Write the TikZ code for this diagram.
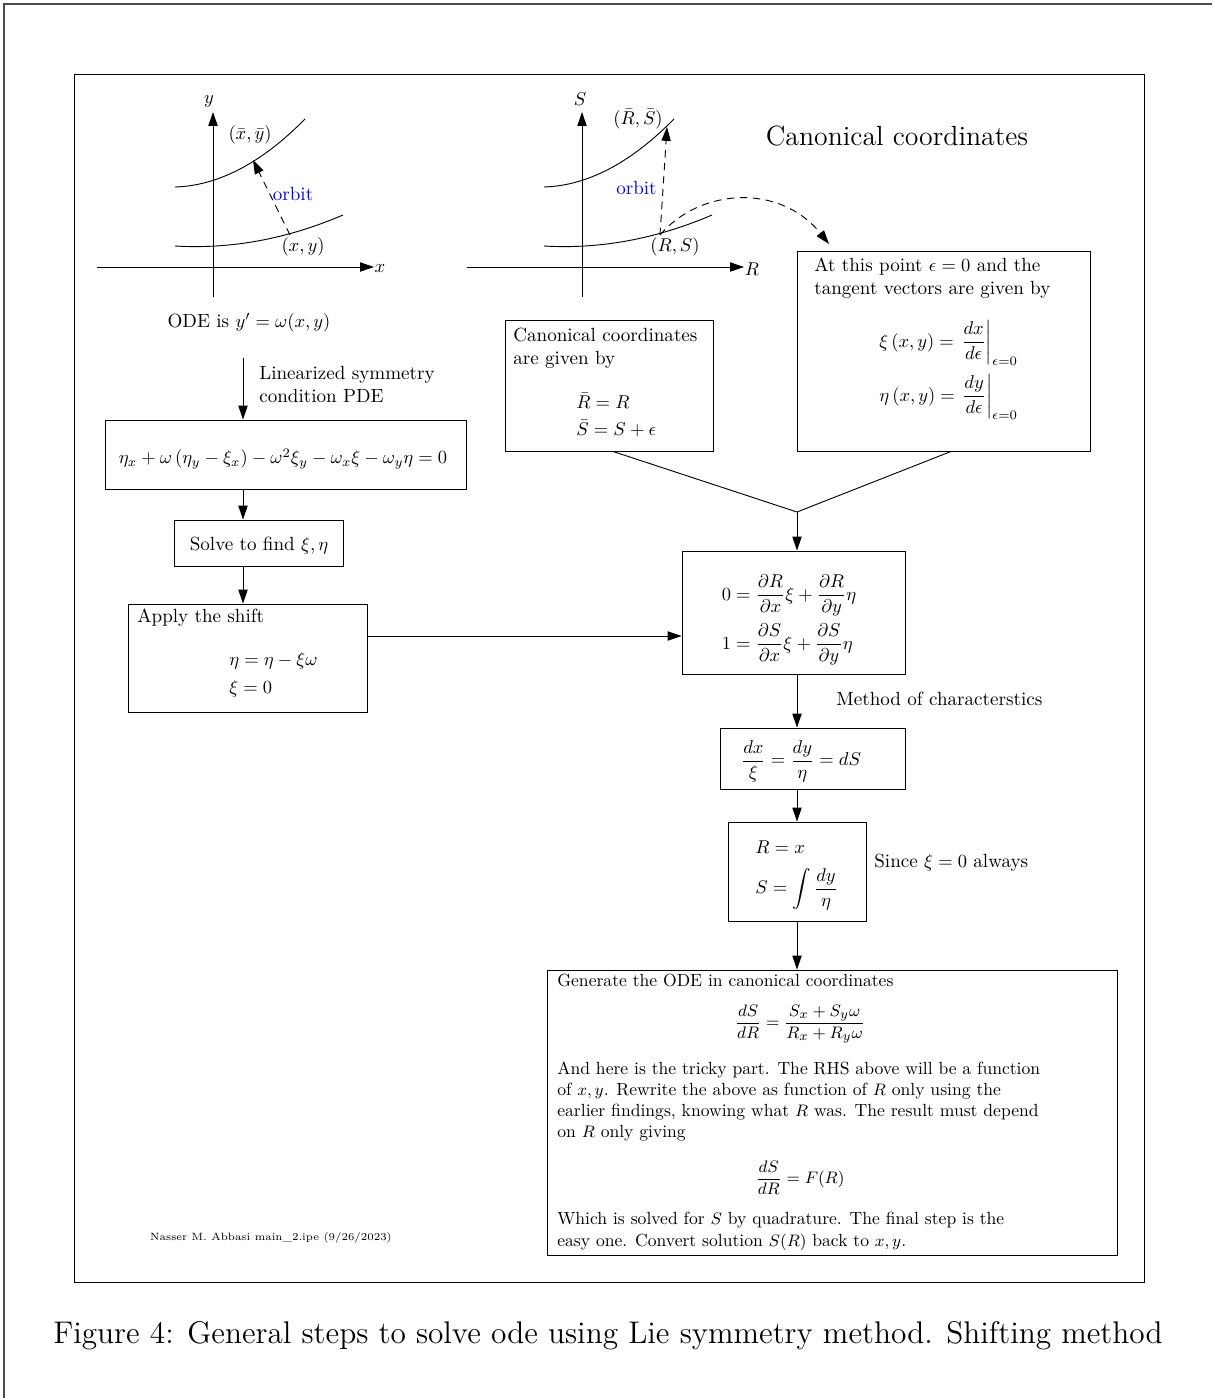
\documentclass[tikz,border=0pt]{standalone}
\usepackage{amsmath}
\usetikzlibrary{arrows.meta,fit}
\font\capfont="[lmroman12-regular]:mapping=tex-text" at 16.9pt
\font\titlefont="[lmroman12-regular]:mapping=tex-text" at 15pt
\begin{document}
\begin{tikzpicture}[x=0.54pt,y=-0.54pt,
  every node/.style={font=\fontsize{10.3}{12.4}\selectfont, inner sep=0pt},
  box/.style={draw, line width=0.5pt, inner sep=0pt},
  ln/.style={line width=0.5pt},
  arr/.style={line width=0.5pt, -{Triangle[length=7.5pt,width=5pt]}},
  dsh/.style={dash pattern=on 4pt off 3pt},
  orb/.style={text=blue},
  txt/.style={anchor=base west},
  gfont/.style={font=\fontsize{9.5}{11.4}\selectfont},
  gtxt/.style={anchor=base west, gfont},
]
\useasboundingbox (0,0) rectangle (1212,1398);
% page frames
\draw[line width=0.6pt, black!70] (4,1398) -- (4,4) -- (1212,4);
\draw[ln] (74,74) rectangle (1144,1282);

% ---------- left plot ----------
\coordinate (yb) at (213,297); \coordinate (yt) at (213,112);
\coordinate (xb) at (97,267);  \coordinate (xt) at (374,267);
\draw[arr] (yb) -- (yt);
\draw[arr] (xb) -- (xt);
\node (ylab) at (209,101) {$y$};
\node (xlab) at (380,269) {$x$};
\draw[ln] (175,187) .. controls (218.3,185.7) and (261.7,163) .. (305,119);
\draw[ln] (175,246) .. controls (231,249.3) and (287,239) .. (343,215);
\coordinate (o1s) at (290,235); \coordinate (o1e) at (253,160);
\draw[arr,dsh] (o1s) -- (o1e);
\node[orb] (orb1) at (293,194) {orbit};
\node (xybar) at (250,135) {$(\bar{x},\bar{y})$};
\node (xy) at (303,247) {$(x,y)$};
\node (ode) at (249,323) {ODE is $y'=\omega(x,y)$};

% ---------- right plot ----------
\coordinate (Sb) at (582,297); \coordinate (St) at (582,112);
\coordinate (Rb) at (467,267); \coordinate (Rt) at (744,267);
\draw[arr] (Sb) -- (St);
\draw[arr] (Rb) -- (Rt);
\node (Slab) at (580,99) {$S$};
\node (Rlab) at (752,269) {$R$};
\draw[ln] (544,187) .. controls (587.3,185.7) and (630.7,163) .. (674,119);
\draw[ln] (544,246) .. controls (600,249.3) and (656,239) .. (712,215);
\coordinate (o2s) at (660,235); \coordinate (o2e) at (667,127);
\draw[arr,dsh] (o2s) -- (o2e);
\node[orb,anchor=east] (orb2) at (657,188) {orbit};
\node (RSbar) at (638,119) {$(\bar{R},\bar{S})$};
\node (RS) at (675,247) {$(R,S)$};
\coordinate (cu) at (829,244);
\draw[arr,dsh] (o2s) .. controls (700,188) and (780,183) .. (cu);

\node[font=\titlefont] (title) at (897,136) {Canonical coordinates};

% ---------- tangent box ----------
\node[box, fit={(797,251) (1090,451)}] (tang) {};
\node[txt] (t1) at (814,271) {At this point $\epsilon=0$ and the};
\node[txt] (t2) at (814,294) {tangent vectors are given by};
\node[txt] (t3) at (879,347) {$\xi\left(x,y\right)=\left.\dfrac{dx}{d\epsilon}\right|_{\epsilon=0}$};
\node[txt] (t4) at (879,401) {$\eta\left(x,y\right)=\left.\dfrac{dy}{d\epsilon}\right|_{\epsilon=0}$};

% ---------- canonical box ----------
\node[box, fit={(505,320) (713,451)}] (canon) {};
\node[txt] (c1) at (513,341) {Canonical coordinates};
\node[txt] (c2) at (513,364) {are given by};
\node[txt] (c3) at (576,408) {$\bar{R}=R$};
\node[txt] (c4) at (576,435) {$\bar{S}=S+\epsilon$};

% ---------- left column ----------
\coordinate (lc) at (243,0);
\coordinate (a0) at (243,358);
\node[txt] (lin1) at (259,379) {Linearized symmetry};
\node[txt] (lin2) at (259,402) {condition PDE};
\node[box, fit={(105,420) (466,489)}] (pde) {};
\node (pdet) at (283,459) {$\eta_x+\omega\left(\eta_y-\xi_x\right)-\omega^2\xi_y-\omega_x\xi-\omega_y\eta=0$};
\node[box, fit={(174,520) (343,566)}] (solve) {};
\node (solvet) at (259,546) {Solve to find $\xi,\eta$};
\node[box, fit={(128,604) (367,712)}] (shift) {};
\node[txt] (sh1) at (137,622) {Apply the shift};
\node[txt] (sh2) at (229,665) {$\eta=\eta-\xi\omega$};
\node[txt] (sh3) at (229,693) {$\xi=0$};

\draw[arr] (a0) -- (pde.north -| a0);
\draw[arr] (pde.south -| lc) -- (solve.north -| lc);
\draw[arr] (solve.south -| lc) -- (shift.north -| lc);

% ---------- right column ----------
\coordinate (rc) at (797,0);
\node[box, fit={(682,551) (905,674)}] (pdes) {};
\node (pdest) at (789,620) {$\begin{aligned}0&=\frac{\partial R}{\partial x}\xi+\frac{\partial R}{\partial y}\eta\\ 1&=\frac{\partial S}{\partial x}\xi+\frac{\partial S}{\partial y}\eta\end{aligned}$};
\node[txt] (moc) at (836,705) {Method of characterstics};
\node[box, fit={(720,728) (905,789)}] (char) {};
\node (chart) at (801,761) {$\dfrac{dx}{\xi}=\dfrac{dy}{\eta}=dS$};
\node[box, fit={(728,822) (866,921)}] (rs) {};
\node[anchor=west] (rs1) at (755,847) {$R=x$};
\node[anchor=west] (rs2) at (755,889) {$S=\displaystyle\int\frac{dy}{\eta}$};
\node[txt] (since) at (874,867) {Since $\xi=0$ always};

\coordinate (hy) at (0,636);
\draw[arr] (shift.east |- hy) -- (pdes.west |- hy);
\coordinate (m) at (797,512);
\coordinate (k1) at (613,0); \coordinate (k2) at (951,0);
\draw[ln] (canon.south -| k1) -- (m) -- (tang.south -| k2);
\draw[arr] (m) -- (pdes.north -| m);
\draw[arr] (pdes.south -| rc) -- (char.north -| rc);
\draw[arr] (char.south -| rc) -- (rs.north -| rc);

% ---------- final box ----------
\node[box, fit={(547,970) (1117,1255)}] (gen) {};
\draw[arr] (rs.south -| rc) -- (gen.north -| rc);
\node[gtxt] (g1) at (557,986) {Generate the ODE in canonical coordinates};
\node[gfont] (g2) at (800,1024) {$\dfrac{dS}{dR}=\dfrac{S_x+S_y\omega}{R_x+R_y\omega}$};
\node[gtxt] (g3) at (557,1074) {And here is the tricky part. The RHS above will be a function};
\node[gtxt] (g4) at (557,1095) {of $x,y$. Rewrite the above as function of $R$ only using the};
\node[gtxt] (g5) at (557,1116) {earlier findings, knowing what $R$ was. The result must depend};
\node[gtxt] (g6) at (557,1137) {on $R$ only giving};
\node[gfont] (g7) at (800,1178) {$\dfrac{dS}{dR}=F(R)$};
\node[gtxt] (g8) at (557,1224) {Which is solved for $S$ by quadrature. The final step is the};
\node[gtxt] (g9) at (557,1246) {easy one. Convert solution $S(R)$ back to $x,y$.};

\node[font=\fontsize{5.7}{7}\selectfont] (foot) at (271,1238) {Nasser M. Abbasi main\_2.ipe (9/26/2023)};

\node[font=\capfont] (cap) at (608,1336) {Figure 4: General steps to solve ode using Lie symmetry method. Shifting method};
\end{tikzpicture}
\end{document}
